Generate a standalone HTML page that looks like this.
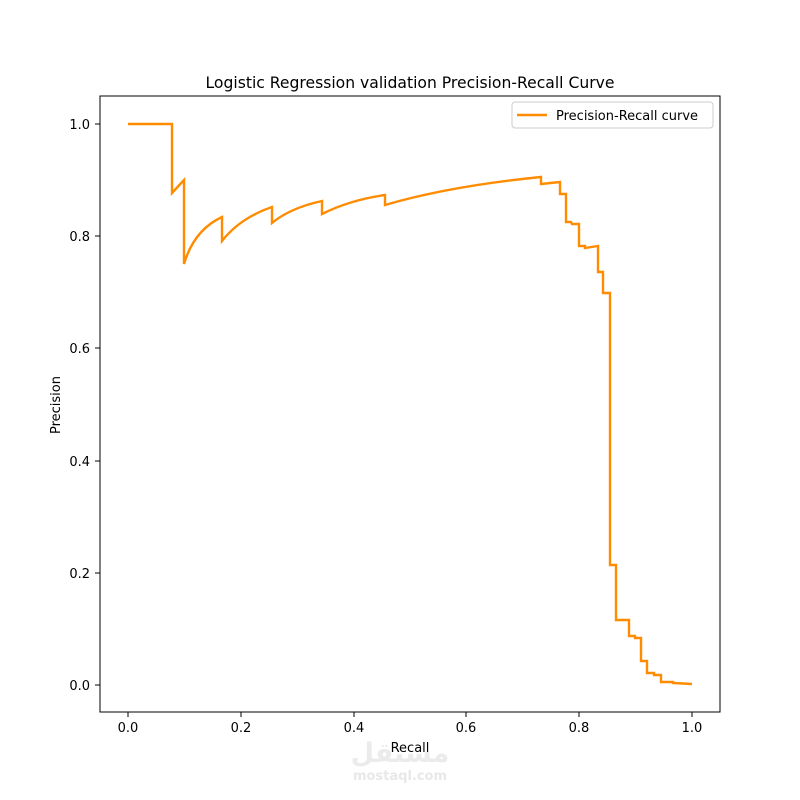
<!DOCTYPE html>
<html><head><meta charset="utf-8"><style>
body{margin:0;background:#fff;}
svg{display:block;font-family:"DejaVu Sans","Liberation Sans",sans-serif;}
</style></head><body>
<svg width="800" height="800" viewBox="0 0 800 800">
<rect width="800" height="800" fill="#fff"/>
<text x="410" y="88" font-size="15.6" text-anchor="middle" fill="#000">Logistic Regression validation Precision-Recall Curve</text>
<rect x="100" y="96" width="620" height="616" fill="none" stroke="#000" stroke-width="1"/>
<g stroke="#000" stroke-width="1">
<line x1="128" y1="712" x2="128" y2="717"/><line x1="241" y1="712" x2="241" y2="717"/><line x1="354" y1="712" x2="354" y2="717"/><line x1="466" y1="712" x2="466" y2="717"/><line x1="579" y1="712" x2="579" y2="717"/><line x1="692" y1="712" x2="692" y2="717"/>
<line x1="95" y1="685" x2="100" y2="685"/><line x1="95" y1="573" x2="100" y2="573"/><line x1="95" y1="461" x2="100" y2="461"/><line x1="95" y1="348" x2="100" y2="348"/><line x1="95" y1="236" x2="100" y2="236"/><line x1="95" y1="124" x2="100" y2="124"/>
</g>
<g font-size="13" fill="#000" text-anchor="middle">
<text x="128" y="732">0.0</text><text x="241" y="732">0.2</text><text x="354" y="732">0.4</text><text x="466" y="732">0.6</text><text x="579" y="732">0.8</text><text x="692" y="732">1.0</text>
</g>
<g font-size="13" fill="#000" text-anchor="end">
<text x="90" y="690">0.0</text><text x="90" y="578">0.2</text><text x="90" y="466">0.4</text><text x="90" y="353">0.6</text><text x="90" y="241">0.8</text><text x="90" y="129">1.0</text>
</g>
<text x="400" y="762" font-size="27" font-weight="bold" text-anchor="middle" fill="#ebebeb">مستقل</text>
<text x="400" y="780" font-size="13" font-weight="bold" text-anchor="middle" fill="#e8e8e8">mostaql.com</text>
<text x="410" y="752" font-size="13" text-anchor="middle" fill="#000">Recall</text>
<text x="60" y="405" font-size="13" text-anchor="middle" fill="#000" transform="rotate(-90 60 405)">Precision</text>
<path fill="none" stroke="#ff8c00" stroke-width="2.4" stroke-linejoin="miter" d="M128,124 L172,124 L172,193 L184,180 L184,264 Q194,230 222,217 L222,241 Q240,218 272,207 L272,223 Q290,208 322,201 L322,214 Q350,200 385,195 L385,205 Q450,186 541,177 L541,184 L560,182 L560,194 L566,194 L566,222 L571,222 L572,224 L579,224 L579,246 L585,246 L585,248 L598,246 L598,272 L603,272 L603,293 L610,293 L610,565 L616,565 L616,620 L629,620 L629,636 L635,636 L635,638 L641,638 L641,661 L647,661 L647,673 L654,673 L654,675 L661,675 L661,682 L673,682 L673,683 L692,684"/>
<rect x="512" y="102" width="201" height="26" fill="#fff" stroke="#ccc" stroke-width="1" rx="3"/>
<line x1="517" y1="115" x2="547" y2="115" stroke="#ff8c00" stroke-width="2.4"/>
<text x="556" y="120" font-size="13" fill="#000">Precision-Recall curve</text>
</svg>
</body></html>
